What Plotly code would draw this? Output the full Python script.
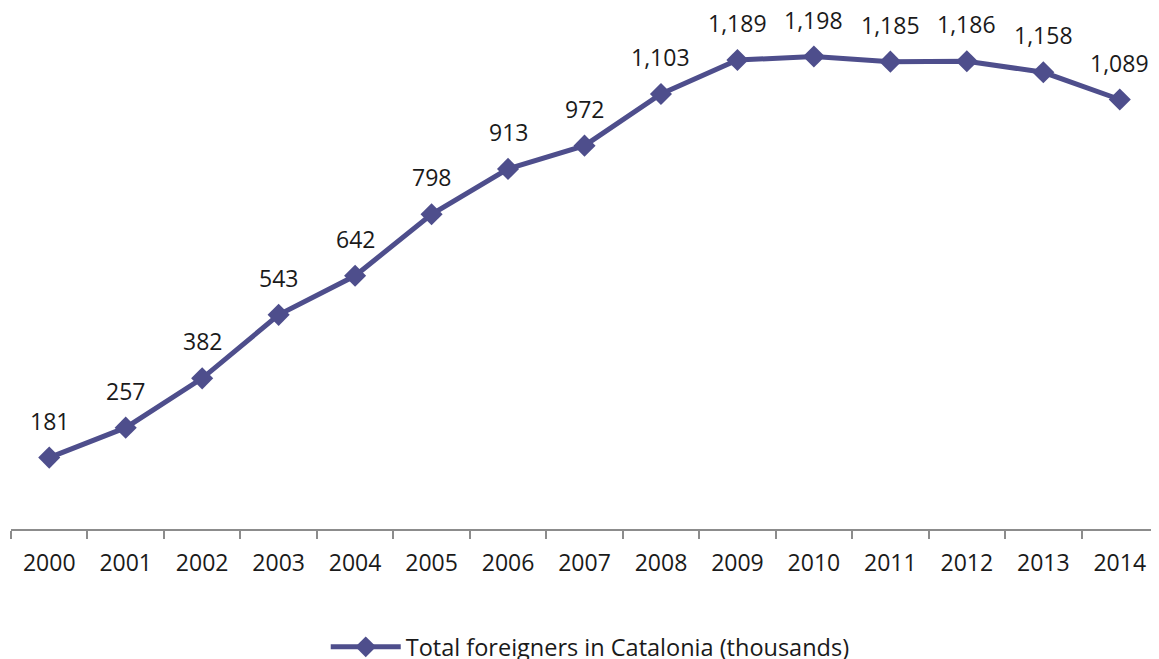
import plotly.graph_objects as go

years = ["2000", "2001", "2002", "2003", "2004", "2005", "2006", "2007",
         "2008", "2009", "2010", "2011", "2012", "2013", "2014"]
values = [181, 257, 382, 543, 642, 798, 913, 972, 1103, 1189, 1198, 1185, 1186, 1158, 1089]
series_name = "Total foreigners in Catalonia (thousands)"

color = "#4E4E8C"
font_family = "Open Sans, Noto Sans, sans-serif"
fs = 23

fig = go.Figure()
fig.add_trace(go.Scatter(
    x=years, y=values, mode="lines+markers", name=series_name,
    line=dict(color=color, width=5),
    marker=dict(symbol="diamond", size=17, color=color),
    cliponaxis=False,
))

for i, v in enumerate(values):
    fig.add_annotation(x=i, y=v, xref="x", yref="y", text=f"{v:,}", showarrow=False,
                       yshift=37, font=dict(size=fs, color="#1a1a1a", family=font_family))

# page body has an 8px default margin, so the figure is sized to fit the window
fig.update_layout(
    width=1151, height=651,
    margin=dict(l=3, r=1, t=0, b=130, autoexpand=False),
    paper_bgcolor="white", plot_bgcolor="white",
    font=dict(family=font_family, size=fs, color="#1a1a1a"),
    showlegend=True,
    legend=dict(orientation="h", x=0.505, xanchor="center", itemwidth=70,
                yref="container", y=0.0184, yanchor="middle",
                font=dict(size=23.5, color="#1a1a1a")),
    xaxis=dict(type="category", range=[-0.5, 14.5], autorange=False, automargin=False,
               showline=True, linecolor="#8c8c8c", linewidth=2,
               ticks="outside", tickson="boundaries", ticklen=8, tickwidth=2,
               tickcolor="#8c8c8c", showgrid=False, zeroline=False, tickangle=0,
               tickfont=dict(size=fs, color="#1a1a1a"), ticklabelstandoff=12),
    yaxis=dict(range=[0, 1321], visible=False, showgrid=False, zeroline=False,
               automargin=False),
)

fig.write_html("out.html")
